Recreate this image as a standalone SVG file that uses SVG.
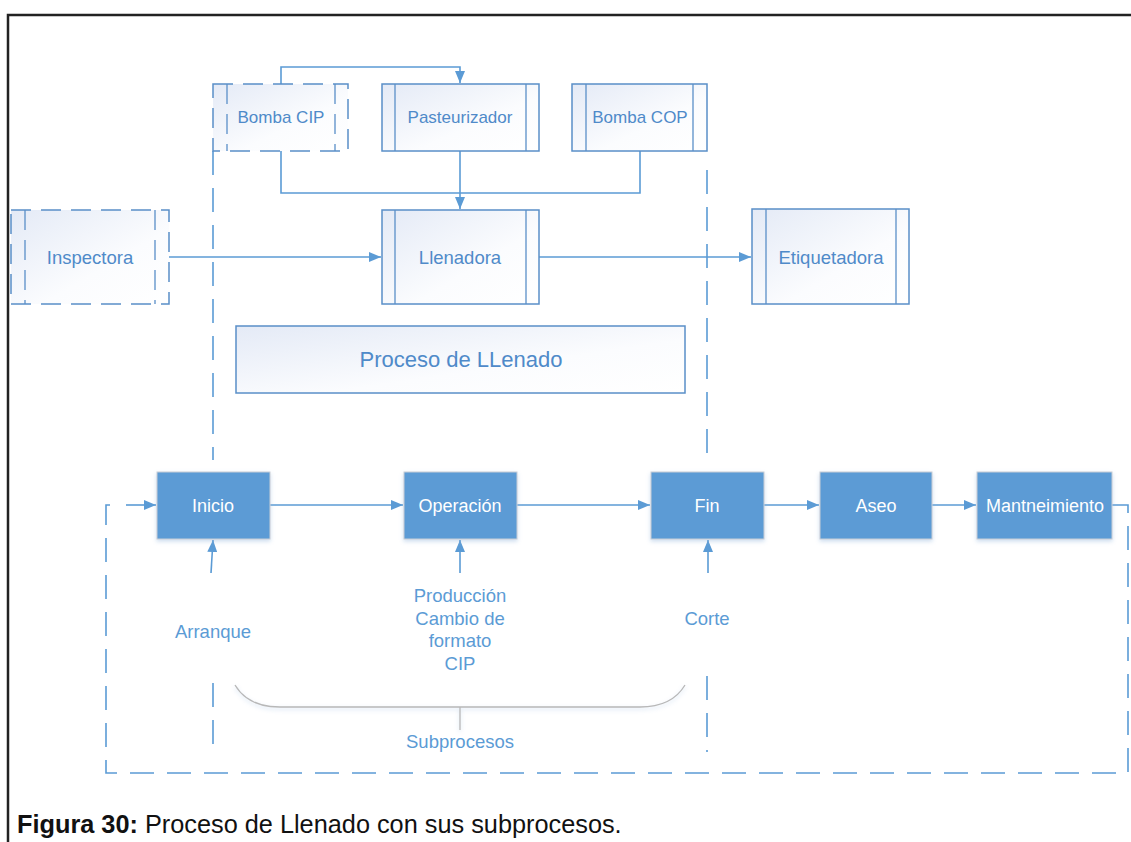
<svg xmlns="http://www.w3.org/2000/svg" width="1131" height="842" viewBox="0 0 1131 842">
  <style>
    .lbl { font-family: "Liberation Sans", Arial, sans-serif; fill: #4f8ac9; text-anchor: middle; }
    .wl { font-family: "Liberation Sans", Arial, sans-serif; fill: #ffffff; text-anchor: middle; font-size: 18px; }
    .sub { font-family: "Liberation Sans", Arial, sans-serif; fill: #5b9bd5; text-anchor: middle; font-size: 18.5px; }
    .box { fill: url(#g); stroke: #5a8fc8; stroke-width: 1.5; }
    .strip { stroke: #5a8fc8; stroke-width: 1.3; }
    .dbox { fill: url(#g); stroke: #5a8fc8; stroke-width: 1.5; stroke-dasharray: 20 10; }
    .dstrip { stroke: #5a8fc8; stroke-width: 1.3; stroke-dasharray: 20 10; }
    .conn { fill: none; stroke: #5b9bd5; stroke-width: 1.6; }
    .dash { fill: none; stroke: #5b9bd5; stroke-width: 1.6; stroke-dasharray: 24 13; }
    .step { fill: #5b9bd5; stroke: #c9ced6; stroke-width: 1; filter: url(#sh); }
  </style>
  <defs>
    <linearGradient id="g" x1="0" y1="0" x2="1" y2="1">
      <stop offset="0" stop-color="#e4eaf6"/>
      <stop offset="0.6" stop-color="#fbfcfe"/>
      <stop offset="1" stop-color="#ffffff"/>
    </linearGradient>
    <filter id="sh" x="-10%" y="-10%" width="130%" height="140%">
      <feDropShadow dx="0" dy="2" stdDeviation="2" flood-color="#8fb3dc" flood-opacity="0.45"/>
    </filter>
    <marker id="a" viewBox="0 0 12 10" refX="12" refY="5" markerWidth="12" markerHeight="10" markerUnits="userSpaceOnUse" orient="auto">
      <path d="M0,0 L12,5 L0,10 z" fill="#5b9bd5"/>
    </marker>
  </defs>

  <rect width="1131" height="842" fill="#ffffff"/>
  <!-- page frame -->
  <path d="M8,842 V15 H1131" fill="none" stroke="#222" stroke-width="2.5"/>

  <!-- dashed boundaries of the filling stage -->
  <g id="boundaries">
    <path class="dash" d="M213,151 V460"/>
    <path class="dash" d="M707,170 V460"/>
    <path class="dash" d="M213,683 V752"/>
    <path class="dash" d="M707,676 V752"/>
  </g>

  <g id="connectors">
    <path class="conn" d="M281,84 V67 H460 V83" marker-end="url(#a)"/>
    <path class="conn" d="M281,151 V193 H640 V151"/>
    <path class="conn" d="M460,151 V209" marker-end="url(#a)"/>
    <path class="conn" d="M169,257 H381" marker-end="url(#a)"/>
    <path class="conn" d="M539,257 H751" marker-end="url(#a)"/>
    <path class="conn" d="M270,505 H403" marker-end="url(#a)"/>
    <path class="conn" d="M517,505 H650" marker-end="url(#a)"/>
    <path class="conn" d="M764,505 H819" marker-end="url(#a)"/>
    <path class="conn" d="M932,505 H976" marker-end="url(#a)"/>
    <path class="conn" d="M211,573 L213,540" marker-end="url(#a)"/>
    <path class="conn" d="M460,573 V540" marker-end="url(#a)"/>
    <path class="conn" d="M708,573 V540" marker-end="url(#a)"/>
    <path class="dash" d="M1112,505 H1128 V773 H106 V505 H118"/>
    <path class="conn" d="M126,505 H156" marker-end="url(#a)"/>
  </g>

  <g id="bomba-cip">
    <rect class="dbox" x="213" y="84" width="135" height="67"/>
    <line class="dstrip" x1="227" y1="84" x2="227" y2="151"/>
    <line class="dstrip" x1="335" y1="84" x2="335" y2="151"/>
    <text class="lbl" x="281" y="123" font-size="17">Bomba CIP</text>
  </g>
  <g id="pasteurizador">
    <rect class="box" x="382" y="84" width="157" height="67"/>
    <line class="strip" x1="395" y1="84" x2="395" y2="151"/>
    <line class="strip" x1="526" y1="84" x2="526" y2="151"/>
    <text class="lbl" x="460" y="123" font-size="17">Pasteurizador</text>
  </g>
  <g id="bomba-cop">
    <rect class="box" x="572" y="84" width="135" height="67"/>
    <line class="strip" x1="586" y1="84" x2="586" y2="151"/>
    <line class="strip" x1="693" y1="84" x2="693" y2="151"/>
    <text class="lbl" x="640" y="123" font-size="17">Bomba COP</text>
  </g>
  <g id="inspectora">
    <rect class="dbox" x="11" y="210" width="158" height="94"/>
    <line class="dstrip" x1="25" y1="210" x2="25" y2="304"/>
    <line class="dstrip" x1="155" y1="210" x2="155" y2="304"/>
    <text class="lbl" x="90" y="264" font-size="18.5">Inspectora</text>
  </g>
  <g id="llenadora">
    <rect class="box" x="382" y="210" width="157" height="94"/>
    <line class="strip" x1="395" y1="210" x2="395" y2="304"/>
    <line class="strip" x1="526" y1="210" x2="526" y2="304"/>
    <text class="lbl" x="460" y="264" font-size="18.5">Llenadora</text>
  </g>
  <g id="etiquetadora">
    <rect class="box" x="752" y="209" width="157" height="95"/>
    <line class="strip" x1="766" y1="209" x2="766" y2="304"/>
    <line class="strip" x1="896" y1="209" x2="896" y2="304"/>
    <text class="lbl" x="831" y="264" font-size="18.5">Etiquetadora</text>
  </g>
  <g id="proceso">
    <rect class="box" x="236" y="326" width="449" height="67"/>
    <text class="lbl" x="461" y="367" font-size="22">Proceso de LLenado</text>
  </g>

  <g id="inicio">
    <rect class="step" x="157" y="472" width="113" height="67"/>
    <text class="wl" x="213" y="512">Inicio</text>
  </g>
  <g id="operacion">
    <rect class="step" x="404" y="472" width="113" height="67"/>
    <text class="wl" x="460" y="512">Operación</text>
  </g>
  <g id="fin">
    <rect class="step" x="651" y="472" width="113" height="67"/>
    <text class="wl" x="707" y="512">Fin</text>
  </g>
  <g id="aseo">
    <rect class="step" x="820" y="472" width="112" height="67"/>
    <text class="wl" x="876" y="512">Aseo</text>
  </g>
  <g id="mantenimiento">
    <rect class="step" x="977" y="472" width="135" height="67"/>
    <text class="wl" x="1045" y="512">Mantneimiento</text>
  </g>

  <g id="labels">
    <text class="sub" x="213" y="638">Arranque</text>
    <text class="sub" x="460" y="602">Producción</text>
    <text class="sub" x="460" y="625">Cambio de</text>
    <text class="sub" x="460" y="647">formato</text>
    <text class="sub" x="460" y="670">CIP</text>
    <text class="sub" x="707" y="625">Corte</text>
  </g>

  <g id="subprocesos">
    <path d="M235,685 Q248,707 280,707 H640 Q672,707 685,685 M460,707 V730" fill="none" stroke="#b8b8b8" stroke-width="1.3" filter="url(#sh)"/>
    <text class="sub" x="460" y="748">Subprocesos</text>
  </g>

  <text x="17" y="833" font-family="Liberation Sans, Arial, sans-serif" font-size="25.3" fill="#111"><tspan font-weight="bold">Figura 30:</tspan> Proceso de Llenado con sus subprocesos.</text>
</svg>
